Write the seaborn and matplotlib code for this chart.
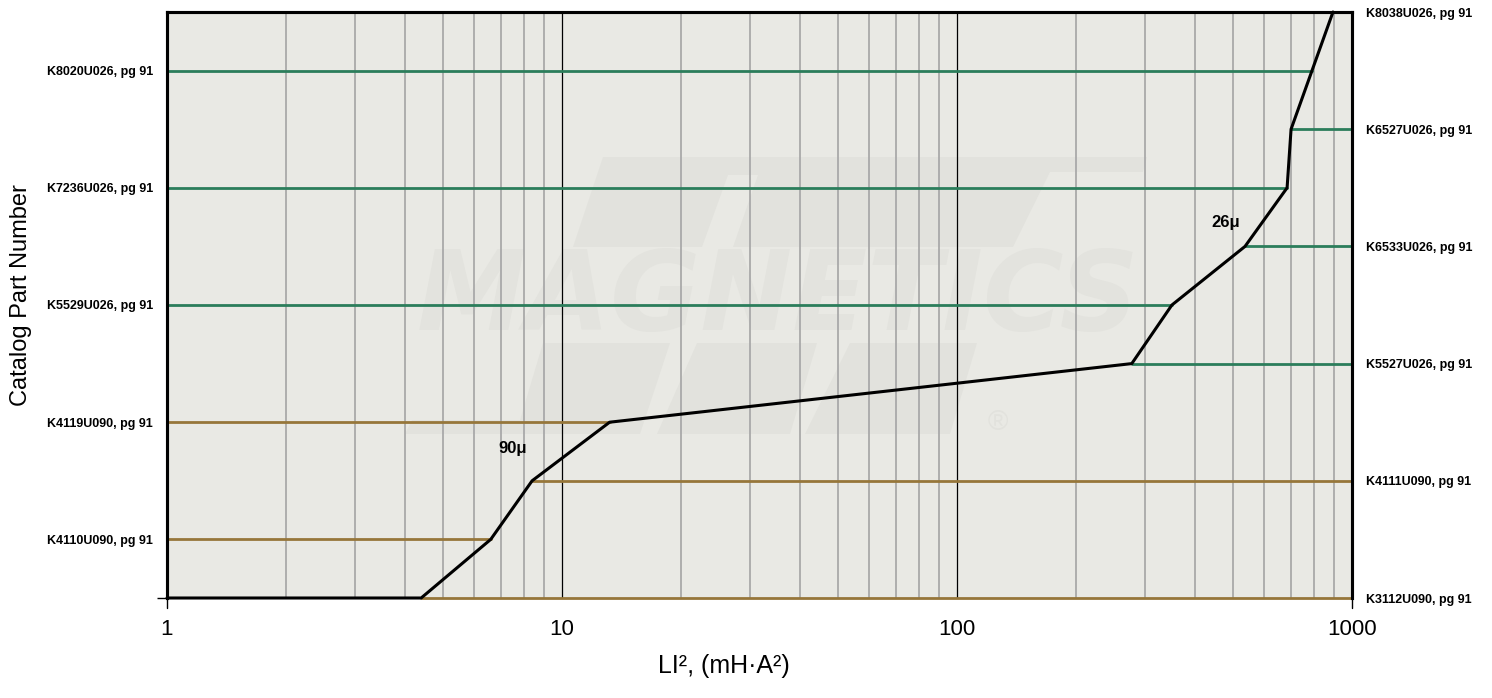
import numpy as np
import pandas as pd
import seaborn as sns
import matplotlib.pyplot as plt
from matplotlib.patches import Polygon

# data
curve_x = [1, 4.4, 6.6, 8.4, 13.2, 277, 350, 536, 685, 701, 895]
curve_lvl = [0, 0, 1, 2, 3, 4, 5, 6, 7, 8, 10]

left_parts = ['K4110U090, pg 91', 'K4119U090, pg 91', 'K5529U026, pg 91',
              'K7236U026, pg 91', 'K8020U026, pg 91']
left_lvl = [1, 3, 5, 7, 9]
left_end = [6.6, 13.2, 350, 685, 792]

right_parts = ['K3112U090, pg 91', 'K4111U090, pg 91', 'K5527U026, pg 91',
               'K6533U026, pg 91', 'K6527U026, pg 91', 'K8038U026, pg 91']
right_lvl = [0, 2, 4, 6, 8, 10]
right_start = [4.4, 8.4, 277, 536, 701, 895]

perm_labels = ['90μ', '26μ']
perm_x = [7.5, 480]
perm_lvl = [2.55, 6.4]

GREEN = '#2b7d5b'
BROWN = '#96763a'
BG = '#e9e9e4'
FONT = ['Liberation Sans', 'DejaVu Sans']
W, H = 1492, 698

sns.set_style('white')
plt.rcParams['font.family'] = FONT
plt.rcParams.update({'text.color': 'black', 'axes.labelcolor': 'black',
                     'xtick.color': 'black', 'ytick.color': 'black'})

fig = plt.figure(figsize=(W / 100, H / 100), dpi=100)
ax = fig.add_axes([167 / W, 1 - 598 / H, (1352 - 167) / W, (598 - 12) / H])
ax.set_facecolor(BG)


# faint logo watermark, shapes given in picture pixels
def px(pts):
    return [(x / W, 1 - y / H) for x, y in pts]


wm = '#e2e2dd'
logo = [
    [(573, 247), (603, 157), (1147, 157), (1143, 172), (1050, 172), (1013, 247)],
    [(405, 434), (412, 420), (520, 420), (543, 343), (977, 343), (950, 434)],
]
slits = [
    [(702, 247), (728, 175), (758, 175), (733, 247)],
    [(640, 434), (670, 343), (697, 343), (657, 434)],
    [(790, 434), (817, 343), (850, 343), (805, 434)],
]
for shp in logo:
    fig.add_artist(Polygon(px(shp), closed=True, transform=fig.transFigure,
                           facecolor=wm, edgecolor='none', zorder=0.5))
for shp in slits:
    fig.add_artist(Polygon(px(shp), closed=True, transform=fig.transFigure,
                           facecolor=BG, edgecolor='none', zorder=0.6))
ax.set_zorder(1)
ax.patch.set_alpha(0)
fig.add_artist(Polygon(px([(167, 12), (1352, 12), (1352, 598), (167, 598)]), closed=True,
                       transform=fig.transFigure, facecolor=BG, edgecolor='none', zorder=0.1))
ax.text(0.516, 0.51, 'MAGNETICS', transform=ax.transAxes, ha='center', va='center',
        fontsize=79, fontweight='bold', style='italic', color='#e3e3de', family='DejaVu Sans',
        zorder=0)
ax.text(0.701, 0.298, '®', transform=ax.transAxes, ha='center', va='center',
        fontsize=20, color=wm, zorder=0)

# grid
for dec in [1, 10, 100]:
    for m in range(2, 10):
        ax.axvline(dec * m, color='#a9a9a9', lw=1.3, zorder=1)
for dec in [10, 100]:
    ax.axvline(dec, color='black', lw=0.9, zorder=1)

# colored part lines
seg_rows = []
for i, (lv, xe) in enumerate(zip(left_lvl, left_end)):
    col = 'g' if left_parts[i].endswith('026, pg 91') else 'b'
    seg_rows += [dict(x=1, y=lv, seg=f'L{i}', c=col), dict(x=xe, y=lv, seg=f'L{i}', c=col)]
for i, (lv, xs) in enumerate(zip(right_lvl, right_start)):
    col = 'g' if right_parts[i].endswith('026, pg 91') else 'b'
    seg_rows += [dict(x=xs, y=lv, seg=f'R{i}', c=col), dict(x=1000, y=lv, seg=f'R{i}', c=col)]
segs = pd.DataFrame(seg_rows)
sns.lineplot(data=segs, x='x', y='y', units='seg', hue='c', palette={'g': GREEN, 'b': BROWN},
             estimator=None, sort=False, lw=2.0, legend=False, ax=ax, zorder=3)

curve = pd.DataFrame({'x': curve_x, 'y': curve_lvl})
sns.lineplot(data=curve, x='x', y='y', sort=False, estimator=None, color='black',
             lw=2.2, ax=ax, zorder=4)
for ln in ax.lines:
    ln.set_clip_on(False)

ax.set_xscale('log')
ax.set_xlim(1, 1000)
ax.set_ylim(0, 10)

for t, xv, yv in zip(perm_labels, perm_x, perm_lvl):
    ax.text(xv, yv, t, ha='center', va='center', fontsize=12, fontweight='bold', zorder=5)

ax.set_xticks([1, 10, 100, 1000])
ax.set_xticklabels(['1', '10', '100', '1000'], fontsize=16)
ax.xaxis.set_minor_locator(plt.NullLocator())
ax.tick_params(axis='x', length=0, pad=15)
ax.set_yticks(left_lvl)
ax.set_yticklabels(left_parts, fontsize=9, fontweight='bold')
ax.set_yticks([0], minor=True)
ax.tick_params(axis='y', which='major', length=0, pad=10)
ax.tick_params(axis='y', which='minor', length=7, width=1, left=True)
ax.set_xlabel('LI², (mH·A²)', fontsize=18)
ax.xaxis.set_label_coords(0.470, -0.095)
ax.set_ylabel('Catalog Part Number', fontsize=17)
ax.yaxis.set_label_coords(-0.114, 0.517)

ax2 = ax.twinx()
ax2.set_zorder(2)
ax2.set_ylim(0, 10)
ax2.set_yticks(right_lvl)
ax2.set_yticklabels(right_parts, fontsize=9, fontweight='bold')
ax2.tick_params(axis='y', length=0, pad=10)

for a in (ax, ax2):
    for s in ['top', 'left', 'right']:
        a.spines[s].set_linewidth(2.2)
        a.spines[s].set_color('black')
    a.spines['bottom'].set_visible(False)

# little ticks below the ends of the x axis
for xv in [1, 1000]:
    ax.plot([xv, xv], [0, -0.17], color='black', lw=1, clip_on=False)

fig.savefig('out.png', dpi=100)
